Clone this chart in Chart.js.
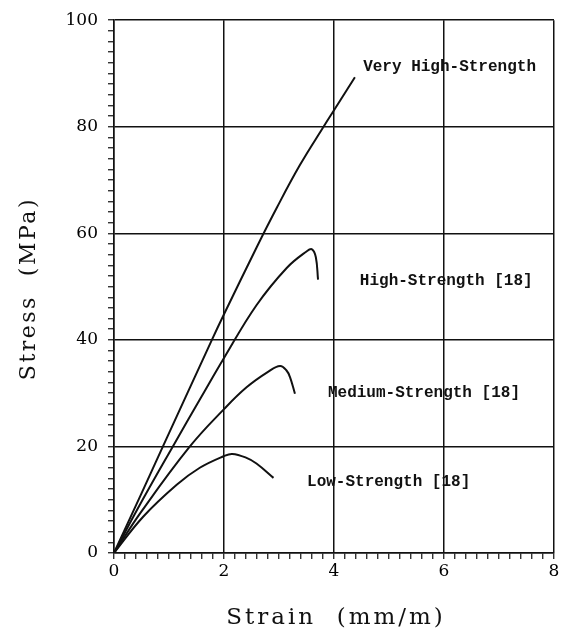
<!DOCTYPE html>
<html>
<head>
<meta charset="utf-8">
<script src="https://cdn.jsdelivr.net/npm/chart.js@4"></script>
<style>
  html, body { margin: 0; padding: 0; background: #fff; }
  #wrap { width: 562px; height: 636px; position: relative; }
</style>
</head>
<body>
<div id="wrap"><canvas id="stressChart"></canvas></div>
<script>
// Stress-strain curves, values (strain mm/m, stress MPa)
const veryHighStrain = [0, 0.5, 0.89, 1.78, 2.0, 2.59, 2.96, 3.38, 3.81, 4.0, 4.38];
const veryHighStress = [0, 11.2, 20, 40, 44.8, 57.3, 64.8, 72.8, 80, 83.1, 89.3];

const highStrain = [0, 0.5, 1.07, 1.6, 2.0, 2.59, 3.14, 3.5, 3.6, 3.67, 3.71];
const highStress = [0, 9.6, 20, 29.5, 36.6, 46.5, 53.5, 56.6, 57.0, 55.5, 51.3];

const mediumStrain = [0, 0.5, 1.38, 2.0, 2.41, 2.8, 3.02, 3.14, 3.2, 3.29];
const mediumStress = [0, 7.8, 20, 27, 31.1, 34.0, 35.1, 34.2, 33.0, 29.9];

const lowStrain = [0, 0.53, 1.14, 1.56, 2.0, 2.15, 2.4, 2.59, 2.9];
const lowStress = [0, 6.8, 12.8, 16.0, 18.2, 18.6, 17.9, 16.8, 14.1];

const curveNames = ['Very High-Strength', 'High-Strength [18]', 'Medium-Strength [18]', 'Low-Strength [18]'];

const xTickLabels = [0, 2, 4, 6, 8];
const yTickLabels = [0, 20, 40, 60, 80, 100];

function toPoints(xs, ys) {
    return xs.map((v, i) => ({ x: v, y: ys[i] }));
}

function isMajor(value, list) {
    return list.includes(+value.toFixed(3));
}

/* ==========================
   CURVE LABELS + AXIS TITLES
========================== */
const curveLabels = {
    id: 'curveLabels',
    afterDatasetsDraw(chart, args, opts) {
        const { ctx, scales: { x, y } } = chart;
        ctx.save();
        ctx.font = opts.font;
        ctx.fillStyle = '#111';
        ctx.textBaseline = 'middle';
        ctx.textAlign = 'left';
        opts.anchors.forEach((a, i) => {
            ctx.fillText(curveNames[i], x.getPixelForValue(a[0]), y.getPixelForValue(a[1]));
        });
        ctx.restore();
    }
};

const axisTitles = {
    id: 'axisTitles',
    afterDraw(chart) {
        const { ctx, chartArea: area } = chart;
        ctx.save();
        ctx.fillStyle = '#111';
        ctx.textAlign = 'center';
        ctx.textBaseline = 'middle';

        ctx.font = '23px "DejaVu Serif"';
        ctx.letterSpacing = '3px';
        ctx.fillText('Strain  (mm/m)', (area.left + area.right) / 2 + 2, area.bottom + 65);

        ctx.font = '22px "DejaVu Serif"';
        ctx.letterSpacing = '2.5px';
        ctx.translate(29, (area.top + area.bottom) / 2 + 2);
        ctx.rotate(-Math.PI / 2);
        ctx.fillText('Stress  (MPa)', 0, 0);
        ctx.restore();
    }
};

const lineStyle = {
    borderColor: '#111',
    borderWidth: 2,
    pointRadius: 0,
    fill: false,
    tension: 0.4
};

new Chart(document.getElementById('stressChart'), {
    type: 'line',
    data: {
        datasets: [
            { label: curveNames[0], data: toPoints(veryHighStrain, veryHighStress), ...lineStyle },
            { label: curveNames[1], data: toPoints(highStrain, highStress), ...lineStyle },
            { label: curveNames[2], data: toPoints(mediumStrain, mediumStress), ...lineStyle },
            { label: curveNames[3], data: toPoints(lowStrain, lowStress), ...lineStyle }
        ]
    },
    options: {
        responsive: true,
        maintainAspectRatio: false,
        animation: false,
        layout: { padding: { top: 18, right: 8, left: 0, bottom: 0 } },
        plugins: {
            legend: { display: false },
            tooltip: { enabled: false },
            curveLabels: {
                font: 'bold 16px "Liberation Mono"',
                anchors: [[4.53, 91.2], [4.47, 51.0], [3.89, 30.1], [3.51, 13.3]]
            }
        },
        scales: {
            x: {
                type: 'linear',
                min: 0,
                max: 8,
                afterFit: s => { s.height = 83; },
                ticks: {
                    stepSize: 0.2,
                    autoSkip: false,
                    maxRotation: 0,
                    padding: 2,
                    color: '#000',
                    font: { family: 'DejaVu Serif', size: 17 },
                    callback: v => isMajor(v, xTickLabels) ? Math.round(v) : ''
                },
                grid: {
                    color: c => isMajor(c.tick.value, xTickLabels) ? '#111' : 'rgba(0,0,0,0)',
                    lineWidth: 1.5,
                    tickColor: '#111',
                    tickLength: 6,
                    tickWidth: 1.2
                },
                border: { color: '#111', width: 1.5 }
            },
            y: {
                min: 0,
                max: 100,
                afterFit: s => { s.width = 114; },
                ticks: {
                    stepSize: 2,
                    autoSkip: false,
                    padding: 10,
                    color: '#000',
                    font: { family: 'DejaVu Serif', size: 17 },
                    callback: v => isMajor(v, yTickLabels) ? Math.round(v) : ''
                },
                grid: {
                    color: c => isMajor(c.tick.value, yTickLabels) ? '#111' : 'rgba(0,0,0,0)',
                    lineWidth: 1.5,
                    tickColor: '#111',
                    tickLength: 6,
                    tickWidth: 1.2
                },
                border: { color: '#111', width: 1.5 }
            }
        }
    },
    plugins: [curveLabels, axisTitles]
});
</script>
</body>
</html>
